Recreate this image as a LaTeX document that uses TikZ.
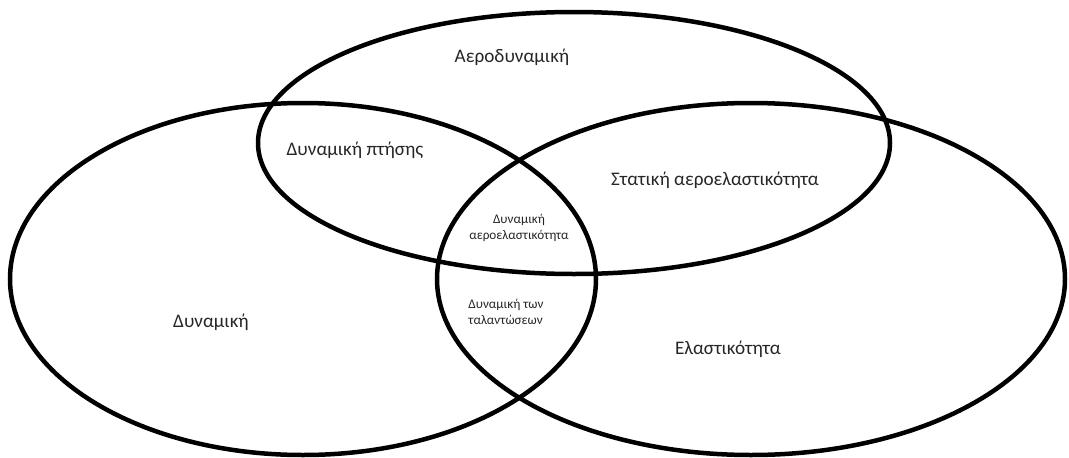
\documentclass[tikz,border=0pt]{standalone}
\usepackage{fontspec}
\setmainfont{Carlito}
\begin{document}
\begin{tikzpicture}[x=1pt,y=-1pt,
  ring/.style={draw=black,line width=4.5pt},
  biglabel/.style={font=\fontsize{19.2}{21}\selectfont,text=black!85},
  smalllabel/.style={font=\fontsize{13.2}{16}\selectfont,text=black!85,align=center}]
\useasboundingbox (0,0) rectangle (1069,458);
\draw[ring] (574,143) ellipse [x radius=316, y radius=131];
\draw[ring] (303,279) ellipse [x radius=293, y radius=176];
\draw[ring] (751,279) ellipse [x radius=314, y radius=176];
\node[biglabel] (aero) at (512,57) {Αεροδυναμική};
\node[biglabel] (flight) at (355,150) {Δυναμική πτήσης};
\node[biglabel] (static) at (715,180) {Στατική αεροελαστικότητα};
\node[smalllabel] (dynaero) at (519,228) {Δυναμική\\αεροελαστικότητα};
\node[smalllabel,align=left] (vib) at (506,312) {Δυναμική των\\ταλαντώσεων};
\node[biglabel] (dyn) at (211,322) {Δυναμική};
\node[biglabel] (elast) at (728,349) {Ελαστικότητα};
\end{tikzpicture}
\end{document}
